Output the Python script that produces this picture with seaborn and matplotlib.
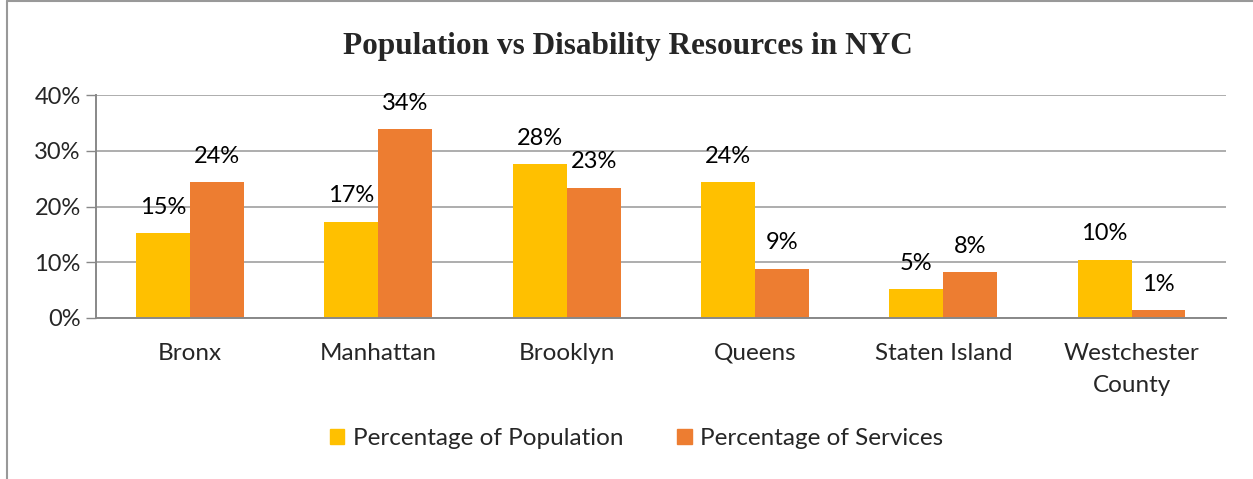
import numpy as np
import pandas as pd
import matplotlib.pyplot as plt
import seaborn as sns
from matplotlib.lines import Line2D
from matplotlib.ticker import FixedLocator, PercentFormatter

# Chart data
regions = ["Bronx", "Manhattan", "Brooklyn", "Queens", "Staten Island", "Westchester\nCounty"]
pct_population = [0.152, 0.173, 0.276, 0.244, 0.051, 0.104]
pct_services = [0.244, 0.339, 0.234, 0.088, 0.082, 0.013]
series_names = ["Percentage of Population", "Percentage of Services"]
series_colors = ["#FFC000", "#ED7D31"]

df = pd.DataFrame({
    "region": regions * 2,
    "value": pct_population + pct_services,
    "series": [series_names[0]] * len(regions) + [series_names[1]] * len(regions),
})

sns.set_style("white")
plt.rcParams["font.family"] = ["Lato", "DejaVu Sans"]

fig = plt.figure(figsize=(12.53, 4.79), dpi=100)
ax = fig.add_axes([0.0766, 0.3367, 0.9016, 0.4643])

sns.barplot(data=df, x="region", y="value", hue="series", order=regions,
            hue_order=series_names, palette=series_colors, width=0.573,
            gap=0, saturation=1, linewidth=0, ax=ax)

# data labels above each bar
for container in ax.containers:
    for bar in container:
        h = bar.get_height()
        ax.annotate(f"{h:.0%}", (bar.get_x() + bar.get_width() / 2, h),
                    xytext=(0, 14), textcoords="offset points",
                    ha="center", va="baseline", fontsize=17, color="black")

ax.set_ylim(0, 0.40)
ax.set_xlim(-0.5, len(regions) - 0.5)
ax.yaxis.set_major_locator(FixedLocator([0, 0.1, 0.2, 0.3, 0.4]))
ax.yaxis.set_major_formatter(PercentFormatter(1.0, decimals=0))
ax.grid(axis="y", color="#A0A0A0", linewidth=1.2)
ax.set_axisbelow(True)

ax.set_xlabel("")
ax.set_ylabel("")
ax.tick_params(axis="x", which="major", length=0, pad=18, labelsize=17.5)
for lbl in ax.get_xticklabels():
    lbl.set_linespacing(1.65)
ax.xaxis.set_minor_locator(FixedLocator(np.arange(-0.5, len(regions), 1.0)))
ax.tick_params(axis="x", which="minor", length=7, width=1, color="#888888", direction="out")
ax.tick_params(axis="y", length=7, width=1, color="#888888", labelsize=17, pad=4, left=True)

for side in ["top", "right"]:
    ax.spines[side].set_visible(False)
for side in ["left", "bottom"]:
    ax.spines[side].set_color("#888888")
    ax.spines[side].set_linewidth(1.4)

fig.text(0.501, 0.903, "Population vs Disability Resources in NYC", ha="center", va="center",
         fontsize=22.5, fontweight="bold", family="Liberation Serif")

ax.get_legend().remove()
handles = [plt.Rectangle((0, 0), 1, 1, color=c) for c in series_colors]
fig.legend(handles, series_names, loc="center", bbox_to_anchor=(0.508, 0.085), ncol=2,
           frameon=False, fontsize=17.5, handlelength=0.6, handleheight=0.6,
           handletextpad=0.35, columnspacing=2.2)

# chart area border (left and top edges visible)
fig.add_artist(Line2D([0.0056, 0.0056], [0, 0.998], color="#999999", linewidth=1.5))
fig.add_artist(Line2D([0.0056, 1], [0.998, 0.998], color="#999999", linewidth=1.5))

fig.savefig("out.png", dpi=100)
